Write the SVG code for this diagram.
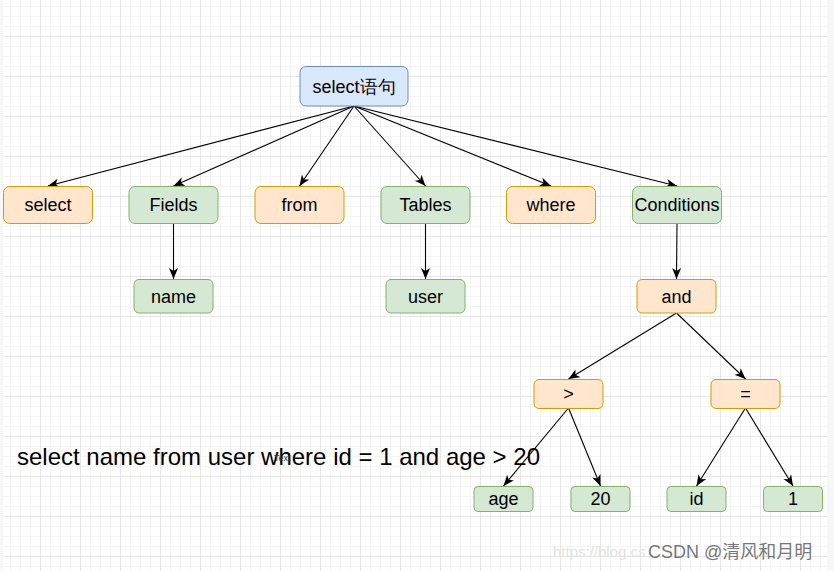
<svg xmlns="http://www.w3.org/2000/svg" width="834" height="571" viewBox="0 0 834 571">
<style>
.n text{font-family:"Liberation Sans",Arial,sans-serif;font-size:18px;fill:#000;text-anchor:middle;dominant-baseline:central}
.o rect{fill:#ffe6cc;stroke:#d79b00;stroke-width:1}
.g rect{fill:#d5e8d4;stroke:#82b366;stroke-width:1}
.b rect{fill:#dae8fc;stroke:#6c8ebf;stroke-width:1}
#edges line{stroke:#000;stroke-width:1.1;marker-end:url(#arr)}
</style>
<defs>
<pattern id="minor" patternUnits="userSpaceOnUse" x="0" y="6" width="10" height="10">
<path d="M0.5 0V10M0 0.5H10" stroke="#f4f4f4" stroke-width="1" fill="none"/>
</pattern>
<pattern id="major" patternUnits="userSpaceOnUse" x="0" y="36" width="40" height="40">
<path d="M0.5 0V40M0 0.5H40" stroke="#e6e6e6" stroke-width="1" fill="none"/>
</pattern>
<marker id="arr" markerUnits="userSpaceOnUse" markerWidth="12" markerHeight="10" refX="11" refY="4.5" orient="auto">
<path d="M0,0 L11,4.5 L0,9 L3,4.5 z" fill="#000"/>
</marker>
</defs>
<rect width="834" height="571" fill="#f6f7f9"/>
<rect x="3" y="0" width="824" height="571" fill="#fff"/>
<rect x="3" y="0" width="824" height="571" fill="url(#minor)"/>
<rect x="3" y="0" width="824" height="571" fill="url(#major)"/>
<g id="edges">
<line x1="354" y1="106" x2="48" y2="186"/>
<line x1="354" y1="106" x2="173.5" y2="186"/>
<line x1="354" y1="106" x2="299.5" y2="186"/>
<line x1="354" y1="106" x2="425.5" y2="186"/>
<line x1="354" y1="106" x2="551" y2="186"/>
<line x1="354" y1="106" x2="677" y2="186"/>
<line x1="173.5" y1="223" x2="173.5" y2="279"/>
<line x1="425.5" y1="223" x2="425.5" y2="279"/>
<line x1="677" y1="223" x2="676.5" y2="279"/>
<line x1="676.5" y1="313" x2="568.5" y2="379"/>
<line x1="676.5" y1="313" x2="745.5" y2="379"/>
<line x1="568.5" y1="408" x2="503.5" y2="486"/>
<line x1="568.5" y1="408" x2="600.5" y2="486"/>
<line x1="745.5" y1="408" x2="696.5" y2="486"/>
<line x1="745.5" y1="408" x2="793" y2="486"/>
</g>
<g id="root" class="n b"><rect x="300" y="66.5" width="108" height="39.5" rx="6"/><text x="354" y="86.5">select语句</text></g>
<g id="select" class="n o"><rect x="3.5" y="186.5" width="89" height="37" rx="6"/><text x="48" y="205">select</text></g>
<g id="fields" class="n g"><rect x="129" y="186.5" width="89" height="37" rx="6"/><text x="173.5" y="205">Fields</text></g>
<g id="from" class="n o"><rect x="255" y="186.5" width="89" height="37" rx="6"/><text x="299.5" y="205">from</text></g>
<g id="tables" class="n g"><rect x="381" y="186.5" width="89" height="37" rx="6"/><text x="425.5" y="205">Tables</text></g>
<g id="where" class="n o"><rect x="506.5" y="186.5" width="89" height="37" rx="6"/><text x="551" y="205">where</text></g>
<g id="conditions" class="n g"><rect x="632.5" y="186.5" width="89" height="37" rx="6"/><text x="677" y="205">Conditions</text></g>
<g id="name" class="n g"><rect x="134" y="279.5" width="79" height="33.5" rx="5"/><text x="173.5" y="296.5">name</text></g>
<g id="user" class="n g"><rect x="386" y="279.5" width="79" height="33.5" rx="5"/><text x="425.5" y="296.5">user</text></g>
<g id="and" class="n o"><rect x="637" y="279.5" width="79" height="33.5" rx="5"/><text x="676.5" y="296.5">and</text></g>
<g id="gt" class="n o"><rect x="534" y="379.5" width="69" height="29" rx="5"/><text x="568.5" y="394">&gt;</text></g>
<g id="eq" class="n o"><rect x="711" y="379.5" width="69" height="29" rx="5"/><text x="745.5" y="394">=</text></g>
<g id="age" class="n g"><rect x="474" y="486.5" width="59" height="25" rx="4"/><text x="503.5" y="499">age</text></g>
<g id="v20" class="n g"><rect x="571" y="486.5" width="59" height="25" rx="4"/><text x="600.5" y="499">20</text></g>
<g id="id" class="n g"><rect x="667" y="486.5" width="59" height="25" rx="4"/><text x="696.5" y="499">id</text></g>
<g id="v1" class="n g"><rect x="763.5" y="486.5" width="59" height="25" rx="4"/><text x="793" y="499">1</text></g>
<text x="17" y="465" font-family="'Liberation Sans',Arial,sans-serif" font-size="24" fill="#000">select name from user where id = 1 and age &gt; 20</text>
<text x="274" y="461" font-family="'Liberation Sans',Arial,sans-serif" font-size="9" fill="#333">Text</text>
<text x="553" y="557" font-family="'Liberation Sans',Arial,sans-serif" font-size="15" fill="#e2e2e2">https://blog.cs</text>
<text x="648" y="558" font-family="'Liberation Sans','Noto Sans CJK SC',sans-serif" font-size="18" fill="#777">CSDN @清风和月明</text>
</svg>
